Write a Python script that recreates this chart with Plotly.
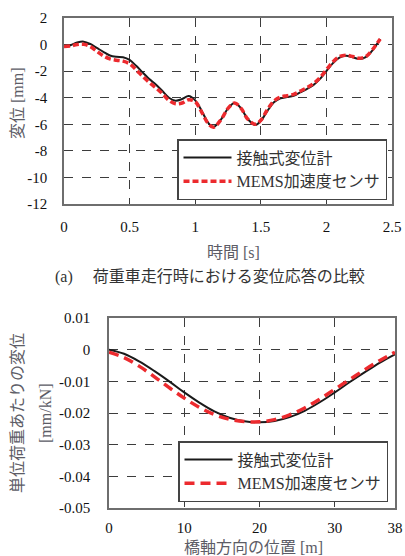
import plotly.graph_objects as go

# ---- data: top chart (time history) ----
t_s = [0.00, 0.05, 0.10, 0.15, 0.20, 0.25, 0.30, 0.35, 0.40, 0.45, 0.50, 0.55, 0.60, 0.65,
       0.70, 0.75, 0.80, 0.85, 0.90, 0.95, 1.00, 1.05, 1.10, 1.14, 1.20, 1.25, 1.30, 1.35,
       1.40, 1.46, 1.50, 1.55, 1.60, 1.65, 1.70, 1.75, 1.80, 1.85, 1.90, 1.95, 2.00, 2.05,
       2.10, 2.15, 2.20, 2.25, 2.30, 2.35, 2.41]
disp_contact = [-0.15, -0.05, 0.15, 0.22, 0.05, -0.25, -0.55, -0.82, -0.92, -0.95, -1.15, -1.6, -2.1, -2.6,
                -3.0, -3.5, -4.0, -4.22, -4.1, -3.88, -4.2, -5.0, -5.9, -6.2, -5.6, -4.8, -4.4, -4.8,
                -5.6, -6.05, -5.75, -5.0, -4.35, -4.05, -3.95, -3.85, -3.6, -3.35, -3.05, -2.6, -2.0, -1.4,
                -0.98, -0.85, -0.95, -1.08, -0.95, -0.45, 0.42]
disp_mems = [-0.15, -0.1, 0.0, 0.02, -0.15, -0.5, -0.85, -1.08, -1.18, -1.25, -1.45, -1.9, -2.4, -2.85,
             -3.25, -3.7, -4.2, -4.45, -4.4, -4.15, -4.3, -5.1, -5.95, -6.22, -5.6, -4.8, -4.4, -4.8,
             -5.6, -6.0, -5.7, -4.9, -4.25, -3.95, -3.85, -3.75, -3.5, -3.25, -2.95, -2.5, -1.9, -1.3,
             -0.9, -0.8, -0.9, -1.03, -0.9, -0.4, 0.42]

# ---- data: bottom chart (influence line) ----
pos_m = [0, 2, 4, 6, 8, 10, 12, 14, 16, 18, 20, 22, 24, 26, 28, 30, 32, 34, 36, 38]
unit_contact = [0.0, -0.0013, -0.0037, -0.0067, -0.0100, -0.0135, -0.0167, -0.0195, -0.0215, -0.0226,
                -0.0229, -0.0225, -0.0213, -0.0193, -0.0166, -0.0135, -0.0102, -0.0071, -0.0041, -0.0015]
unit_mems = [-0.0008, -0.0025, -0.0052, -0.0085, -0.0120, -0.0153, -0.0182, -0.0205, -0.0220, -0.0227,
             -0.0228, -0.0221, -0.0206, -0.0184, -0.0156, -0.0125, -0.0094, -0.0063, -0.0034, -0.0008]

# ---- tick labels ----
x1_ticks = [0, 0.5, 1, 1.5, 2, 2.5]
x1_labels = ["0", "0.5", "1", "1.5", "2", "2.5"]
y1_ticks = [2, 0, -2, -4, -6, -8, -10, -12]
y1_labels = ["2", "0", "-2", "-4", "-6", "-8", "-10", "-12"]
x2_ticks = [0, 10, 20, 30, 38]
x2_labels = ["0", "10", "20", "30", "38"]
y2_ticks = [0.01, 0, -0.01, -0.02, -0.03, -0.04, -0.05]
y2_labels = ["0.01", "0", "-0.01", "-0.02", "-0.03", "-0.04", "-0.05"]

name_contact = "接触式変位計"
name_mems = "MEMS加速度センサ"

FONT = "'Liberation Serif', 'DejaVu Serif', 'Noto Sans CJK JP', serif"
BLACK = "#1a1a1a"
RED = "#ec2a2e"

fig = go.Figure()
fig.add_trace(go.Scatter(x=t_s, y=disp_contact, mode="lines", name=name_contact,
                         line=dict(color=BLACK, width=2, shape="spline"),
                         xaxis="x", yaxis="y", legend="legend", legendgroup="a1"))
fig.add_trace(go.Scatter(x=t_s, y=disp_mems, mode="lines", name=name_mems,
                         line=dict(color=RED, width=3.5, dash="6px,3px", shape="spline"),
                         xaxis="x", yaxis="y", legend="legend", legendgroup="a2"))
fig.add_trace(go.Scatter(x=pos_m, y=unit_contact, mode="lines", name=name_contact,
                         line=dict(color=BLACK, width=2, shape="spline"),
                         xaxis="x2", yaxis="y2", legend="legend2", legendgroup="b1"))
fig.add_trace(go.Scatter(x=pos_m, y=unit_mems, mode="lines", name=name_mems,
                         line=dict(color=RED, width=3.5, dash="10px,6px", shape="spline"),
                         xaxis="x2", yaxis="y2", legend="legend2", legendgroup="b2"))

ax_common = dict(showline=True, mirror=True, linecolor="#6e6e6e", linewidth=1.5,
                 showgrid=True, gridcolor="#3c3c3c", gridwidth=1, griddash="dash",
                 zeroline=False, ticks="", tickfont=dict(family=FONT, size=15, color="#111"),
                 tickmode="array", automargin=False)

fig.update_layout(
    width=405, height=556, margin=dict(l=0, r=0, t=0, b=0),
    paper_bgcolor="white", plot_bgcolor="white",
    font=dict(family=FONT, size=15, color="#222"),
    xaxis=dict(domain=[64/405, 392/405], range=[0, 2.5], anchor="y",
               tickvals=x1_ticks, ticktext=x1_labels, ticklabelstandoff=8, **ax_common),
    yaxis=dict(domain=[1-204/556, 1-18/556], range=[-12, 2], anchor="x",
               tickvals=y1_ticks, ticktext=y1_labels, ticklabelstandoff=12, **ax_common),
    xaxis2=dict(domain=[109/405, 395/405], range=[0, 38], anchor="y2",
                tickvals=x2_ticks, ticktext=x2_labels, ticklabelstandoff=5, **ax_common),
    yaxis2=dict(domain=[1-508/556, 1-318/556], range=[-0.05, 0.01], anchor="x2",
                tickvals=y2_ticks, ticktext=y2_labels, ticklabelstandoff=14, **ax_common),
    legend=dict(x=387/405, y=1-200/556, xanchor="right", yanchor="bottom",
                bgcolor="white", bordercolor="#444", borderwidth=1.5,
                font=dict(family=FONT, size=16, color="#333"),
                itemwidth=48, traceorder="grouped", tracegroupgap=0),
    legend2=dict(x=388/405, y=1-502/556, xanchor="right", yanchor="bottom",
                 bgcolor="white", bordercolor="#444", borderwidth=1.5,
                 font=dict(family=FONT, size=16, color="#333"),
                 itemwidth=48, traceorder="grouped", tracegroupgap=0),
    showlegend=True,
)

title_font = dict(family=FONT, size=16, color="#5c5c66")
ann = [
    dict(text="変位 [mm]", x=18/405, y=1-103/556, textangle=-90),
    dict(text="時間 [s]", x=234/405, y=1-252/556, textangle=0),
    dict(text="(a)\u3000 荷重車走行時における変位応答の比較", x=210/405, y=1-277/556, textangle=0,
         font=dict(family=FONT, size=16, color="#333")),
    dict(text="単位荷重あたりの変位", x=17/405, y=1-413/556, textangle=-90),
    dict(text="[mm/kN]", x=45/405, y=1-413/556, textangle=-90),
    dict(text="橋軸方向の位置 [m]", x=253/405, y=1-547/556, textangle=0),
]
for a in ann:
    fig.add_annotation(xref="paper", yref="paper", showarrow=False, xanchor="center", yanchor="middle",
                       x=a["x"], y=a["y"], text=a["text"], textangle=a["textangle"],
                       font=a.get("font", title_font))

fig.write_html("out.html", config={"displayModeBar": False},
               post_script="document.body.style.margin='0px';")
